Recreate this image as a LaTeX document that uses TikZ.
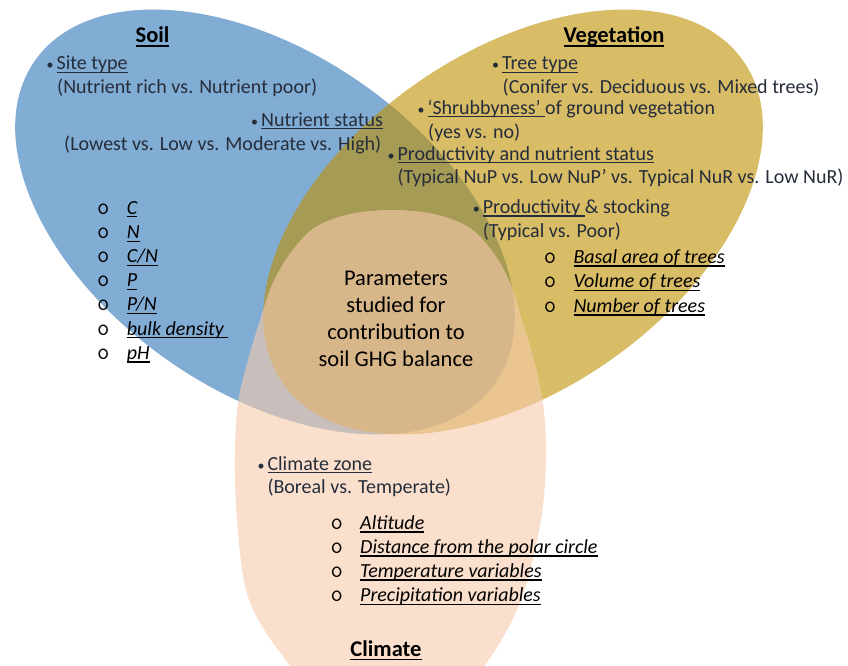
\documentclass[tikz,border=0pt]{standalone}
\usepackage{fontspec}
\setmainfont{Carlito}
\definecolor{soilc}{RGB}{46,117,182}
\definecolor{vegc}{RGB}{191,144,0}
\definecolor{climc}{RGB}{248,203,173}
\definecolor{txtc}{RGB}{37,45,59}
\newcommand\myul[1]{\setbox0=\hbox{#1}\rlap{\rule[-3.2pt]{\wd0}{1.1pt}}\box0}
\newcommand\myulb[1]{\setbox0=\hbox{#1}\rlap{\rule[-3.9pt]{\wd0}{1.6pt}}\box0}
\newcommand\bul{\llap{\makebox[13pt][c]{\fontsize{14}{14}\selectfont •}}}
\tikzset{
  vennset/.style={fill opacity=0.6},
  body/.style={anchor=base west, inner sep=0pt, font=\fontsize{20}{24}\selectfont, text=txtc},
  subitem/.style={anchor=base west, inner sep=0pt, font=\fontsize{20}{24}\selectfont\itshape, text=black},
  obullet/.style={anchor=base, inner sep=0pt, font=\fontsize{24}{24}\selectfont\ttfamily, text=black},
  titlebox/.style={anchor=base, inner sep=0pt, font=\fontsize{22.5}{27}\selectfont\bfseries, text=black},
  centrebox/.style={anchor=base, inner sep=0pt, font=\fontsize{22.5}{27}\selectfont, text=black},
}
\begin{document}
\begin{tikzpicture}[x=1pt,y=-1pt]
\useasboundingbox (0,0) rectangle (848,666);
\fill[white] (0,0) rectangle (848,666);
\begin{scope}
\clip (0,0) rectangle (848,666);
% Soil
\fill[soilc, vennset, rotate around={-35:(265,222)}] (265,222) ellipse [x radius=281pt, y radius=169pt];
% Vegetation
\fill[vegc, vennset, rotate around={35:(513,222)}] (513,222) ellipse [x radius=281pt, y radius=169pt];
% Climate
\fill[climc, vennset] plot[smooth cycle, tension=0.55] coordinates {
 (392,210) (434,214) (470,228) (495,255) (511,285) (522,320) (534,360) (543,403)
 (546,455) (541,520) (522,597) (492,655) (448,705) (390,730) (330,705) (282,655)
 (248,597) (237,520) (235,455) (238,403) (248,360) (260,320) (272,285) (289,255)
 (314,228) (350,214)};
\end{scope}

% ---- Soil texts
\node[titlebox] (soilT) at (152.5,43) {\myulb{Soil}};
\node[body] (s1) at (56.5,69.5) {\bul\myul{Site type}};
\node[body] (s1b) at (57,94) {(Nutrient rich vs. Nutrient poor)};
\node[body] (s2) at (261,126) {\bul\myul{Nutrient status}};
\node[body] (s2b) at (64,150) {(Lowest vs. Low vs. Moderate vs. High)};
\node[obullet] (so1) at (103.3,214) {o};
\node[obullet] (so2) at (103.3,238.5) {o};
\node[obullet] (so3) at (103.3,262.5) {o};
\node[obullet] (so4) at (103.3,286.7) {o};
\node[obullet] (so5) at (103.3,310.8) {o};
\node[obullet] (so6) at (103.3,335) {o};
\node[obullet] (so7) at (103.3,359.3) {o};
\node[subitem] (st1) at (126.7,214) {\myul{C}};
\node[subitem] (st2) at (126.7,238.5) {\myul{N}};
\node[subitem] (st3) at (126.7,262.5) {\myul{C/N}};
\node[subitem] (st4) at (126.7,286.7) {\myul{P}};
\node[subitem] (st5) at (126.7,310.8) {\myul{P/N}};
\node[subitem] (st6) at (126.7,335) {\myul{bulk density }};
\node[subitem] (st7) at (126.7,359.3) {\myul{pH}};

% ---- Vegetation texts
\node[titlebox] (vegT) at (614,43) {\myulb{Vegetation}};
\node[body] (v1) at (502,70) {\bul\myul{Tree type}};
\node[body] (v1b) at (502.5,94) {(Conifer vs. Deciduous vs. Mixed trees)};
\node[body] (v2) at (427.3,114) {\bul\myul{‘Shrubbyness’ }of ground vegetation};
\node[body] (v2b) at (428,138.3) {(yes vs. no)};
\node[body] (v3) at (397.3,160) {\bul\myul{Productivity and nutrient status}};
\node[body] (v3b) at (397.3,183.5) {(Typical NuP vs. Low NuP’ vs. Typical NuR vs. Low NuR)};
\node[body] (v4) at (482.7,213.3) {\bul\myul{Productivity }\& stocking};
\node[body] (v4b) at (482.7,237.3) {(Typical vs. Poor)};
\node[obullet] (vo1) at (550,263.3) {o};
\node[obullet] (vo2) at (550,287.5) {o};
\node[obullet] (vo3) at (550,312.3) {o};
\node[subitem] (vt1) at (573.3,263.3) {\myul{Basal area of trees}};
\node[subitem] (vt2) at (573.3,287.5) {\myul{Volume of trees}};
\node[subitem] (vt3) at (573.3,312.3) {\myul{Number of trees}};

% ---- Centre
\node[centrebox] (c1) at (396,285) {Parameters};
\node[centrebox] (c2) at (396,312) {studied for};
\node[centrebox] (c3) at (396,339) {contribution to};
\node[centrebox] (c4) at (396,366.5) {soil GHG balance};

% ---- Climate texts
\node[body] (k1) at (267.3,470) {\bul\myul{Climate zone}};
\node[body] (k1b) at (267.3,493.5) {(Boreal vs. Temperate)};
\node[obullet] (ko1) at (336.7,529.3) {o};
\node[obullet] (ko2) at (336.7,553.3) {o};
\node[obullet] (ko3) at (336.7,577.3) {o};
\node[obullet] (ko4) at (336.7,601.5) {o};
\node[subitem] (kt1) at (360,529.3) {\myul{Altitude}};
\node[subitem] (kt2) at (360,553.3) {\myul{Distance from the polar circle}};
\node[subitem] (kt3) at (360,577.3) {\myul{Temperature variables}};
\node[subitem] (kt4) at (360,601.5) {\myul{Precipitation variables}};
\node[titlebox] (climT) at (386,656.5) {\myulb{Climate}};
\end{tikzpicture}
\end{document}
